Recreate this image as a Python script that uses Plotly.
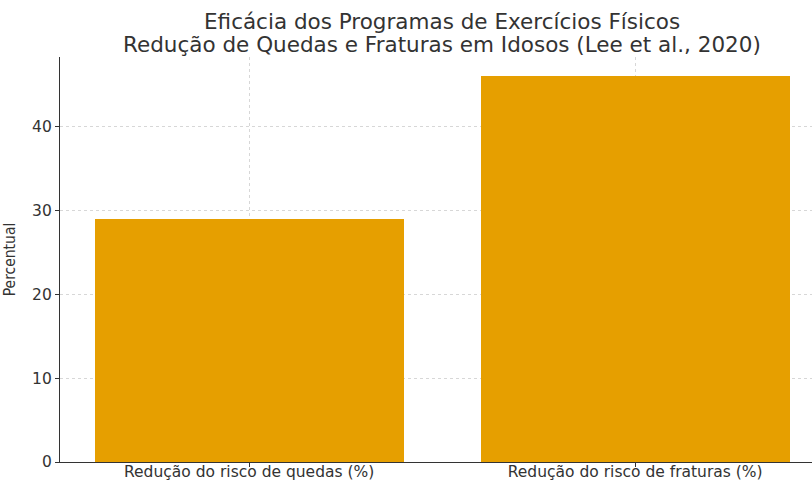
import plotly.graph_objects as go

categories = ["Redução do risco de quedas (%)", "Redução do risco de fraturas (%)"]
values = [29, 46]
title_lines = ["Eficácia dos Programas de Exercícios Físicos",
               "Redução de Quedas e Fraturas em Idosos (Lee et al., 2020)"]
y_label = "Percentual"
y_ticks = [0, 10, 20, 30, 40]

W, H = 812, 480
L, R, T, B = 60, 0, 57, 18
plot_h = H - T - B

fig = go.Figure()
fig.add_trace(go.Bar(
    x=[0, 1], y=values, width=0.8,
    marker=dict(color="#E69F00", line=dict(width=0)),
))

def py(pix):
    return 1 + (T - pix) / plot_h

tx = (442 - L) / (W - L - R)
for txt, ypix in zip(title_lines, [21, 44]):
    fig.add_annotation(text=txt, xref="paper", yref="paper",
                       x=tx, y=py(ypix), xanchor="center", yanchor="middle",
                       showarrow=False, font=dict(family="DejaVu Sans", size=21.5, color="#333333"))

grid = dict(showgrid=True, gridcolor="rgba(140,140,140,0.35)", griddash="dot", gridwidth=1)

fig.update_layout(
    width=W, height=H,
    margin=dict(l=L, r=R, t=T, b=B, autoexpand=False),
    plot_bgcolor="white", paper_bgcolor="white",
    showlegend=False,
    xaxis=dict(range=[-0.49, 1.458], tickmode="array", tickvals=[0, 1], ticktext=categories,
               showline=True, linecolor="#333333", linewidth=1.2,
               ticks="outside", ticklen=4, tickcolor="#333333",
               ticklabelstandoff=-9,
               tickfont=dict(family="DejaVu Sans", size=15.5, color="#333333"),
               zeroline=False, layer="above traces", automargin=False, **grid),
    yaxis=dict(range=[0, 48.3], tickmode="array", tickvals=y_ticks,
               showline=True, linecolor="#333333", linewidth=1.2,
               ticks="outside", ticklen=4, tickcolor="#333333",
               tickfont=dict(family="DejaVu Sans", size=15.5, color="#333333"),
               title=dict(text=y_label, standoff=12,
                          font=dict(family="DejaVu Sans Condensed, Liberation Sans Narrow, DejaVu Sans", size=15.5, color="#333333")),
               zeroline=False, layer="above traces", automargin=False, **grid),
    bargap=0,
)

fig.write_html("out.html", config={"displayModeBar": False},
               post_script="document.body.style.margin='0';document.body.style.overflow='hidden';")
